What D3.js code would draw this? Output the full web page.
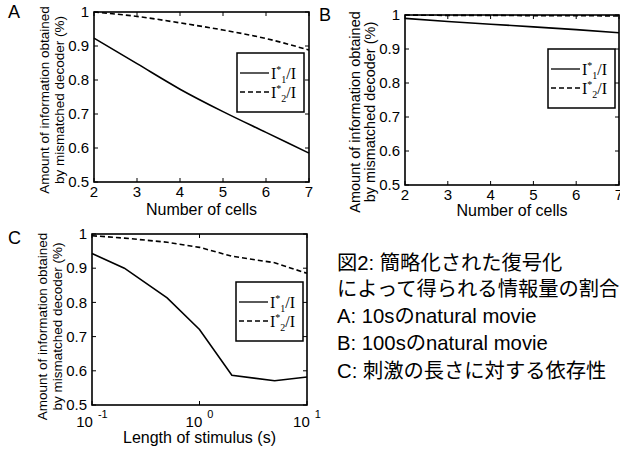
<!DOCTYPE html>
<html>
<head>
<meta charset="utf-8">
<script src="https://cdn.jsdelivr.net/npm/d3@7"></script>
<style>
body { margin: 0; background: #fff; }
svg { display: block; }
text { font-family: "Liberation Sans", Arial, "Noto Sans CJK JP", sans-serif; fill: #000; }
.cap { font-family: "Liberation Sans", Arial, "Noto Sans CJK JP", sans-serif; font-size: 20.3px; }
.leg { font-family: "Liberation Serif", "DejaVu Serif", serif; font-size: 16px; }
</style>
</head>
<body>
<script>
const width = 620, height = 454;

// panel A and B: number of cells
const cells = [2, 3, 4, 5, 6, 7];
const aI1 = [0.923, 0.848, 0.773, 0.707, 0.646, 0.585];
const aI2 = [1.0, 0.987, 0.968, 0.947, 0.922, 0.888];
const bI1 = [0.990, 0.981, 0.973, 0.965, 0.957, 0.948];
const bI2 = [1.0, 0.999, 0.999, 0.998, 0.998, 0.997];
// panel C: stimulus length (s)
const stimLen = [0.1, 0.2, 0.5, 1, 2, 5, 10];
const cI1 = [0.943, 0.900, 0.813, 0.721, 0.587, 0.571, 0.582];
const cI2 = [0.995, 0.988, 0.976, 0.961, 0.935, 0.916, 0.885];

const yTicks = [0.5, 0.6, 0.7, 0.8, 0.9, 1];
const yLabelLines = ["Amount of information obtained", "by mismatched decoder (%)"];
const caption = [
  "図2: 簡略化された復号化",
  "によって得られる情報量の割合",
  "A: 10sのnatural movie",
  "B: 100sのnatural movie",
  "C: 刺激の長さに対する依存性"
];

const svg = d3.select("body").append("svg")
  .attr("width", width)
  .attr("height", height)
  .attr("viewBox", [0, 0, width, height]);

function panel(cfg) {
  const g = svg.append("g");
  const x = cfg.log
    ? d3.scaleLog().domain([0.1, 10]).range([cfg.left, cfg.right])
    : d3.scaleLinear().domain([2, 7]).range([cfg.left, cfg.right]);
  const y = d3.scaleLinear().domain([0.5, 1]).range([cfg.bottom, cfg.top]);
  const xt = cfg.log ? [0.1, 1, 10] : cells;
  const tl = 4;

  // ticks inside, on all four sides
  g.append("g").selectAll("line").data(yTicks).join("line")
    .attr("x1", cfg.left).attr("x2", cfg.left + tl)
    .attr("y1", d => y(d)).attr("y2", d => y(d))
    .attr("stroke", "#000");
  g.append("g").selectAll("line").data(yTicks).join("line")
    .attr("x1", cfg.right).attr("x2", cfg.right - tl)
    .attr("y1", d => y(d)).attr("y2", d => y(d))
    .attr("stroke", "#000");
  g.append("g").selectAll("line").data(xt).join("line")
    .attr("x1", d => x(d)).attr("x2", d => x(d))
    .attr("y1", cfg.bottom).attr("y2", cfg.bottom - tl)
    .attr("stroke", "#000");
  g.append("g").selectAll("line").data(xt).join("line")
    .attr("x1", d => x(d)).attr("x2", d => x(d))
    .attr("y1", cfg.top).attr("y2", cfg.top + tl)
    .attr("stroke", "#000");

  // tick labels
  g.append("g").selectAll("text").data(yTicks).join("text")
    .attr("x", cfg.left - 5).attr("y", d => y(d)).attr("dy", "0.35em")
    .attr("text-anchor", "end").attr("font-size", 15)
    .text(d => d3.format("~g")(d));

  if (cfg.log) {
    const lab = g.append("g").selectAll("text").data(xt).join("text")
      .attr("x", d => x(d)).attr("y", cfg.bottom + 22)
      .attr("text-anchor", "middle").attr("font-size", 15);
    lab.append("tspan").text("10");
    lab.append("tspan").attr("dx", 5).attr("dy", -9).attr("font-size", 11)
      .text(d => Math.round(Math.log10(d)));
  } else {
    g.append("g").selectAll("text").data(xt).join("text")
      .attr("x", d => x(d)).attr("y", cfg.bottom + 15)
      .attr("text-anchor", "middle").attr("font-size", 15)
      .text(d => d);
  }

  // data lines
  const line = d3.line()
    .x(d => x(d[0])).y(d => y(d[1]))
    .curve(cfg.log ? d3.curveLinear : d3.curveMonotoneX);
  g.append("path").datum(d3.zip(cfg.xs, cfg.s1))
    .attr("d", line).attr("fill", "none")
    .attr("stroke", "#000").attr("stroke-width", 1.6);
  g.append("path").datum(d3.zip(cfg.xs, cfg.s2))
    .attr("d", line).attr("fill", "none")
    .attr("stroke", "#000").attr("stroke-width", 1.6)
    .attr("stroke-dasharray", "5,3");

  // axes box
  g.append("rect")
    .attr("x", cfg.left).attr("y", cfg.top)
    .attr("width", cfg.right - cfg.left).attr("height", cfg.bottom - cfg.top)
    .attr("fill", "none").attr("stroke", "#000").attr("stroke-width", 1.6);

  // legend
  const lg = g.append("g").attr("transform", `translate(${cfg.leg[0]},${cfg.leg[1]})`);
  lg.append("rect").attr("width", 67).attr("height", 59)
    .attr("fill", "#fff").attr("stroke", "#000").attr("stroke-width", 1.5);
  [["", 20], ["5,3", 39]].forEach(([dash, ly], i) => {
    lg.append("line").attr("x1", 3).attr("x2", 32).attr("y1", ly).attr("y2", ly)
      .attr("stroke", "#000").attr("stroke-width", 1.3)
      .attr("stroke-dasharray", dash || null);
    const t = lg.append("text").attr("class", "leg").attr("x", 34).attr("y", ly + 6);
    t.append("tspan").text("I");
    t.append("tspan").attr("dy", -6).attr("font-size", 10).text("*");
    t.append("tspan").attr("dy", 10).attr("font-size", 10).text(i + 1);
    t.append("tspan").attr("dy", -4).text("/I");
  });

  // axis labels
  const cy = (cfg.top + cfg.bottom) / 2 + cfg.ylShift;
  yLabelLines.forEach((s, i) => {
    g.append("text")
      .attr("transform", `translate(${cfg.left - 45 + i * 15},${cy}) rotate(-90)`)
      .attr("text-anchor", "middle").attr("font-size", cfg.ylSize)
      .text(s);
  });
  g.append("text")
    .attr("x", (cfg.left + cfg.right) / 2).attr("y", cfg.xlY)
    .attr("text-anchor", "middle").attr("font-size", 16)
    .text(cfg.xLabel);

  g.append("text").attr("x", cfg.tag[0]).attr("y", cfg.tag[1])
    .attr("font-size", 18).text(cfg.name);
}

panel({name: "A", tag: [8, 18], left: 94, right: 309, top: 12, bottom: 182,
  xs: cells, s1: aI1, s2: aI2, leg: [237, 53], xLabel: "Number of cells", xlY: 215,
  ylShift: 3, ylSize: 13.5});
panel({name: "B", tag: [319, 21], left: 405, right: 619, top: 15, bottom: 185,
  xs: cells, s1: bI1, s2: bI2, leg: [548, 49], xLabel: "Number of cells", xlY: 216,
  ylShift: 12, ylSize: 14.5});
panel({name: "C", tag: [8, 244], left: 92, right: 307, top: 234, bottom: 405, log: true,
  xs: stimLen, s1: cI1, s2: cI2, leg: [236, 282], xLabel: "Length of stimulus (s)", xlY: 443,
  ylShift: 7, ylSize: 13.5});

// caption
svg.append("g").selectAll("text").data(caption).join("text")
  .attr("class", "cap")
  .attr("x", 337)
  .attr("y", (d, i) => [270, 296, 323, 350, 378][i])
  .text(d => d);
</script>
</body>
</html>
